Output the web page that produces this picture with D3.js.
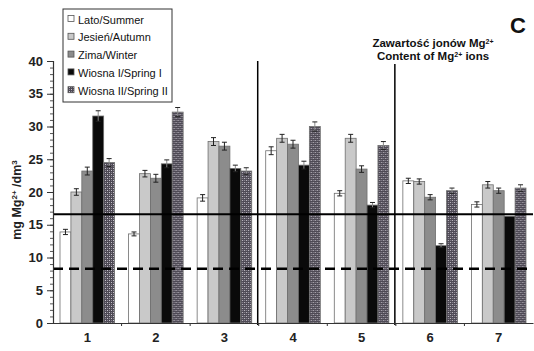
<!DOCTYPE html>
<html>
<head>
<meta charset="utf-8">
<script src="https://cdn.jsdelivr.net/npm/d3@7"></script>
<style>
  body { margin: 0; background: #fff; }
  text { font-family: "Liberation Sans", Arial, sans-serif; }
</style>
</head>
<body>
<div id="chart"></div>
<script>
// categories and series
const categories = ["1", "2", "3", "4", "5", "6", "7"];
const seasons = ["Lato/Summer", "Jesień/Autumn", "Zima/Winter", "Wiosna I/Spring I", "Wiosna II/Spring II"];

// Mg content per season, one value per category
const summer  = [13.9, 13.6, 19.1, 26.3, 19.8, 21.7, 18.1];
const autumn  = [20.0, 22.8, 27.7, 28.2, 28.2, 21.6, 21.1];
const winter  = [23.2, 22.1, 27.0, 27.3, 23.5, 19.2, 20.2];
const spring1 = [31.6, 24.3, 23.6, 24.1, 18.0, 11.8, 16.3];
const spring2 = [24.5, 32.2, 23.2, 30.0, 27.1, 20.2, 20.6];

// error (± values)
const errSummer  = [0.4, 0.3, 0.5, 0.6, 0.4, 0.4, 0.4];
const errAutumn  = [0.5, 0.5, 0.6, 0.6, 0.6, 0.4, 0.5];
const errWinter  = [0.6, 0.6, 0.6, 0.6, 0.5, 0.4, 0.4];
const errSpring1 = [0.8, 0.6, 0.5, 0.6, 0.4, 0.3, 0.0];
const errSpring2 = [0.6, 0.7, 0.5, 0.7, 0.6, 0.4, 0.5];

const yTicks = [0, 5, 10, 15, 20, 25, 30, 35, 40];
const solidLimit = 16.6;
const dashedLimit = 8.3;
// vertical separators sit between categories 3|4 and 5|6
const separators = [3, 5];

const values = [summer, autumn, winter, spring1, spring2];
const errors = [errSummer, errAutumn, errWinter, errSpring1, errSpring2];
const fills = ["#ffffff", "#c9c9c9", "#8c8c8c", "#0a0a0a", "url(#noise)"];

const width = 534, height = 351;
const margin = { top: 61, right: 1, bottom: 28, left: 53 };

const svg = d3.select("#chart").append("svg")
  .attr("width", width)
  .attr("height", height);

// speckled pattern for Spring II
const defs = svg.append("defs");
const pat = defs.append("pattern")
  .attr("id", "noise")
  .attr("width", 4).attr("height", 4)
  .attr("patternUnits", "userSpaceOnUse");
pat.append("rect").attr("width", 4).attr("height", 4).attr("fill", "#4e4a55");
pat.append("rect").attr("x", 0).attr("y", 0).attr("width", 1).attr("height", 1).attr("fill", "#c8c4cc");
pat.append("rect").attr("x", 2).attr("y", 2).attr("width", 1).attr("height", 1).attr("fill", "#c8c4cc");
pat.append("rect").attr("x", 2).attr("y", 0).attr("width", 1).attr("height", 1).attr("fill", "#8a8592");
pat.append("rect").attr("x", 0).attr("y", 2).attr("width", 1).attr("height", 1).attr("fill", "#8a8592");

const x0 = d3.scaleBand()
  .domain(categories)
  .range([margin.left, width - margin.right])
  .paddingInner(0)
  .paddingOuter(0);

const x1 = d3.scaleBand()
  .domain(d3.range(seasons.length))
  .range([7, x0.bandwidth() - 7]);

const y = d3.scaleLinear()
  .domain([0, 40])
  .range([height - margin.bottom, margin.top]);

// bars
categories.forEach((cat, ci) => {
  const g = svg.append("g").attr("transform", `translate(${x0(cat)},0)`);
  values.forEach((series, si) => {
    const v = series[ci];
    g.append("rect")
      .attr("x", x1(si))
      .attr("y", y(v))
      .attr("width", x1.bandwidth())
      .attr("height", y(0) - y(v))
      .attr("fill", fills[si])
      .attr("stroke", "#6e6e6e")
      .attr("stroke-width", 0.8);
    const e = errors[si][ci];
    if (e > 0) {
      const cx = x1(si) + x1.bandwidth() / 2;
      g.append("line")
        .attr("x1", cx).attr("x2", cx)
        .attr("y1", y(v + e)).attr("y2", y(v - e))
        .attr("stroke", si >= 3 ? "#888" : "#222").attr("stroke-width", 1);
      [v + e, v - e].forEach(t => {
        g.append("line")
          .attr("x1", cx - 2.5).attr("x2", cx + 2.5)
          .attr("y1", y(t)).attr("y2", y(t))
          .attr("stroke", "#222").attr("stroke-width", 1);
      });
    }
  });
});

// reference lines
svg.append("line")
  .attr("x1", margin.left).attr("x2", width - margin.right)
  .attr("y1", y(solidLimit)).attr("y2", y(solidLimit))
  .attr("stroke", "#000").attr("stroke-width", 2);
svg.append("line")
  .attr("x1", margin.left).attr("x2", width - margin.right)
  .attr("y1", y(dashedLimit)).attr("y2", y(dashedLimit))
  .attr("stroke", "#000").attr("stroke-width", 2.5)
  .attr("stroke-dasharray", "10,6");

// vertical separators
separators.forEach((s, i) => {
  const sx = x0(categories[s]) - 1;
  svg.append("line")
    .attr("x1", sx).attr("x2", sx)
    .attr("y1", i === 0 ? y(40) : 64).attr("y2", y(0) + 2)
    .attr("stroke", "#000").attr("stroke-width", 1.5);
});

// y axis with minor ticks
const yAxis = svg.append("g")
  .attr("transform", `translate(${margin.left},0)`);
yAxis.call(d3.axisLeft(y).tickValues(d3.range(0, 41, 1)).tickSize(3).tickFormat(""));
yAxis.call(g => g.selectAll(".tick line").attr("stroke", "#555"));
const yMajor = svg.append("g")
  .attr("transform", `translate(${margin.left},0)`)
  .call(d3.axisLeft(y).tickValues(yTicks).tickSize(6).tickPadding(4));
yMajor.select(".domain").attr("stroke", "#333").attr("stroke-width", 1.2);
yMajor.selectAll(".tick line").attr("stroke", "#333");
yMajor.selectAll(".tick text")
  .attr("font-size", 13).attr("font-weight", "bold").attr("fill", "#222")
  .attr("font-family", "Liberation Sans, Arial, sans-serif");

// x axis
const xAxis = svg.append("g")
  .attr("transform", `translate(0,${y(0)})`)
  .call(d3.axisBottom(x0).tickSize(0).tickPadding(10));
xAxis.select(".domain").attr("stroke", "#333").attr("stroke-width", 1.2);
xAxis.selectAll(".tick text")
  .attr("font-size", 13).attr("font-weight", "bold").attr("fill", "#222")
  .attr("font-family", "Liberation Sans, Arial, sans-serif");
categories.slice(1).forEach(c => {
  svg.append("line")
    .attr("x1", x0(c)).attr("x2", x0(c))
    .attr("y1", y(0)).attr("y2", y(0) + 3)
    .attr("stroke", "#333");
});

// y axis title
const yt = svg.append("text")
  .attr("transform", `translate(21,${(y(0) + y(40)) / 2 + 8}) rotate(-90)`)
  .attr("text-anchor", "middle")
  .attr("font-size", 12.5).attr("font-weight", "bold").attr("fill", "#222");
yt.append("tspan").text("mg Mg");
yt.append("tspan").attr("font-size", 8).attr("baseline-shift", "super").text("2+");
yt.append("tspan").text(" /dm");
yt.append("tspan").attr("font-size", 8).attr("baseline-shift", "super").text("3");

// chart title
const t1 = svg.append("text")
  .attr("x", 433).attr("y", 47)
  .attr("text-anchor", "middle")
  .attr("font-size", 11.5).attr("font-weight", "bold").attr("fill", "#111");
t1.append("tspan").text("Zawartość jonów Mg");
t1.append("tspan").attr("font-size", 7).attr("baseline-shift", "super").text("2+");
const t2 = svg.append("text")
  .attr("x", 433).attr("y", 60)
  .attr("text-anchor", "middle")
  .attr("font-size", 11.5).attr("font-weight", "bold").attr("fill", "#111");
t2.append("tspan").text("Content of Mg");
t2.append("tspan").attr("font-size", 7).attr("baseline-shift", "super").text("2+");
t2.append("tspan").text(" ions");

svg.append("text")
  .attr("x", 518).attr("y", 33)
  .attr("text-anchor", "middle")
  .attr("font-size", 22).attr("font-weight", "bold").attr("fill", "#111")
  .text("C");

// legend
const legend = svg.append("g").attr("transform", "translate(63,9)");
legend.append("rect")
  .attr("width", 109).attr("height", 93)
  .attr("fill", "#fff").attr("stroke", "#333").attr("stroke-width", 1);
seasons.forEach((s, i) => {
  const ly = 10 + i * 17.8;
  legend.append("rect")
    .attr("x", 5).attr("y", ly - 3.5)
    .attr("width", 6).attr("height", 6)
    .attr("fill", fills[i]).attr("stroke", "#555").attr("stroke-width", 0.8);
  legend.append("text")
    .attr("x", 15).attr("y", ly + 4.5)
    .attr("font-size", 11).attr("fill", "#111")
    .text(s);
});
</script>
</body>
</html>
